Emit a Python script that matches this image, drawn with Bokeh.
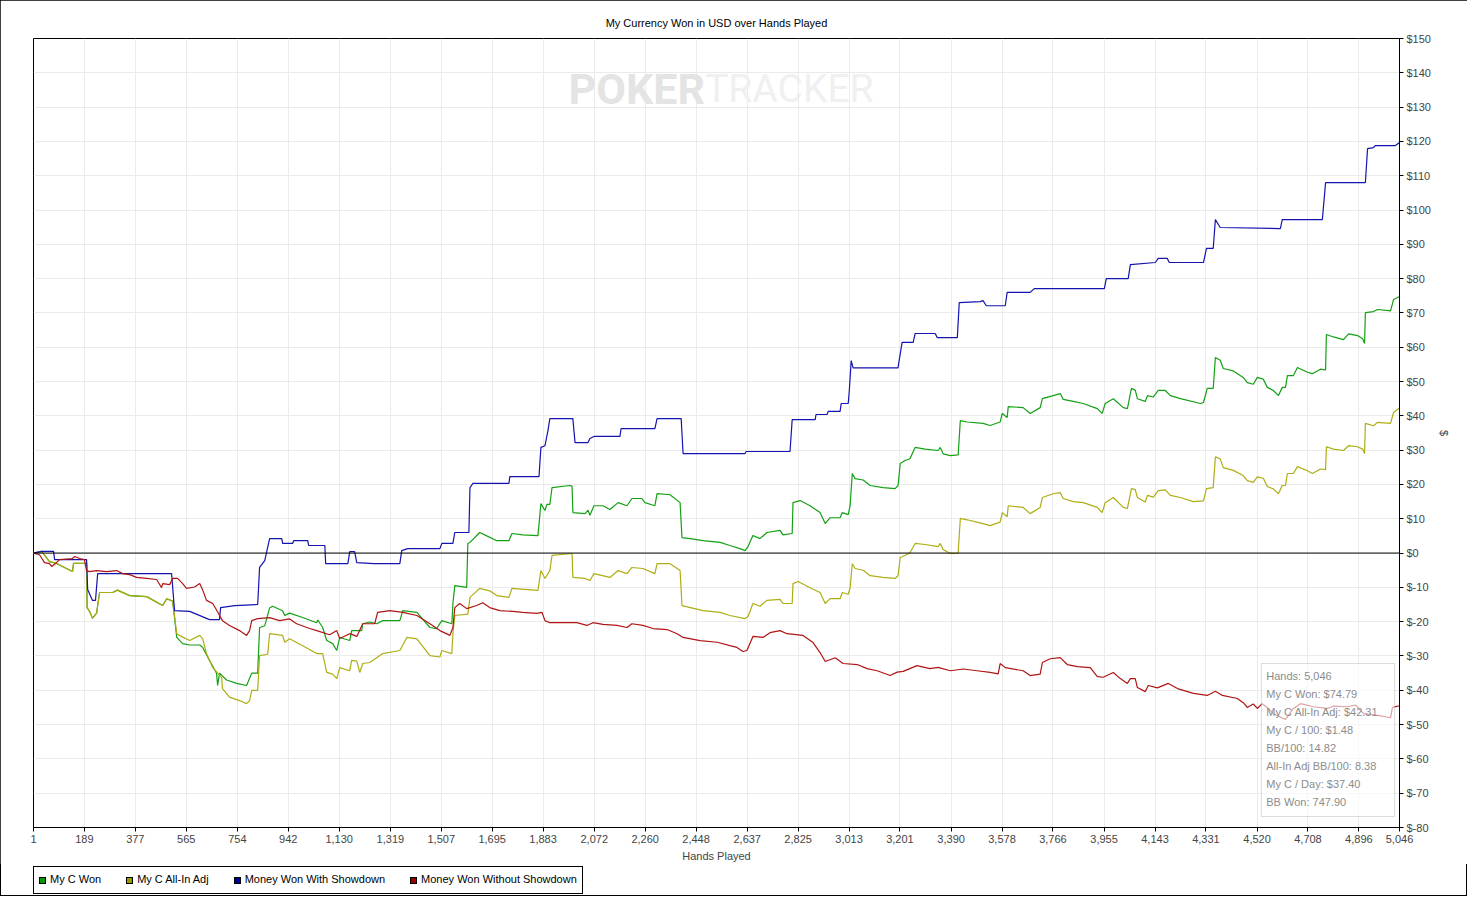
from bokeh.plotting import figure
from bokeh.layouts import column
from bokeh.models import (FixedTicker, NumeralTickFormatter, Span, BoxAnnotation, Label,
                          Range1d, ColumnDataSource, Div)
from bokeh.embed import file_html
from bokeh.resources import INLINE

# ---------------- data ----------------
hand_ticks = [1, 189, 377, 565, 754, 942, 1130, 1319, 1507, 1695, 1883, 2072, 2260, 2448,
              2637, 2825, 3013, 3201, 3390, 3578, 3766, 3955, 4143, 4331, 4520, 4708, 4896, 5046]
usd_ticks = list(range(-80, 151, 10))

series_names = ["My C Won", "My C All-In Adj", "Money Won With Showdown", "Money Won Without Showdown"]

won_hands = [1, 31, 60, 86, 97, 123, 145, 149, 182, 197,
             199, 208, 219, 234, 245, 293, 311, 356, 419, 478,
             493, 515, 530, 552, 578, 615, 626, 651, 677, 681,
             688, 714, 751, 788, 807, 829, 836, 855, 873, 884,
             921, 929, 947, 995, 1047, 1051, 1069, 1084, 1106, 1121,
             1132, 1169, 1176, 1213, 1217, 1243, 1269, 1291, 1354, 1365,
             1417, 1465, 1490, 1509, 1546, 1550, 1557, 1601, 1605, 1613,
             1649, 1675, 1712, 1757, 1768, 1808, 1864, 1875, 1890, 1897,
             1908, 1916, 1982, 1990, 1993, 2038, 2049, 2056, 2071, 2104,
             2130, 2160, 2193, 2211, 2248, 2259, 2296, 2304, 2352, 2389,
             2396, 2426, 2474, 2537, 2573, 2610, 2629, 2640, 2658, 2684,
             2710, 2758, 2769, 2803, 2806, 2832, 2869, 2906, 2925, 2943,
             2980, 2988, 3010, 3017, 3025, 3035, 3065, 3091, 3139, 3183,
             3194, 3202, 3220, 3238, 3257, 3294, 3342, 3350, 3361, 3387,
             3416, 3424, 3449, 3508, 3534, 3571, 3579, 3597, 3601, 3656,
             3682, 3719, 3727, 3767, 3793, 3804, 3841, 3878, 3930, 3948,
             3959, 3989, 4026, 4041, 4056, 4070, 4078, 4107, 4115, 4137,
             4155, 4181, 4200, 4237, 4311, 4322, 4336, 4358, 4366, 4384,
             4395, 4432, 4469, 4484, 4506, 4521, 4543, 4558, 4580, 4599,
             4613, 4625, 4632, 4654, 4669, 4706, 4724, 4754, 4773, 4776,
             4802, 4839, 4858, 4891, 4910, 4917, 4920, 4950, 4965, 5013,
             5024, 5046]
won_usd = [0, 0.5, -2.5, -3, -3.5, -4.5, -5.4, -3, -3, -3,
           -16, -17, -19, -17.5, -11.5, -11.5, -10.8, -12.4, -12.7, -15.3,
           -13.3, -14, -24.6, -26.4, -26.8, -26.8, -27.5, -31.3, -35, -38.6,
           -35, -37, -38, -38.6, -35, -35, -21.7, -21.2, -16, -15.5,
           -16.8, -18.2, -17.5, -18.8, -20.3, -19.5, -21.7, -25.5, -26.4, -28.4,
           -24.6, -25.5, -22.6, -22.6, -20.6, -20.1, -20.6, -19.7, -19.7, -16.8,
           -17.3, -21.7, -22, -19.7, -20.6, -14.7, -9.5, -10, 2.8, 3.1,
           6, 5, 3.6, 3.6, 5.7, 5.3, 5.1, 14.4, 12.4, 14.2,
           14.2, 19.1, 19.7, 19.5, 11.8, 11.5, 12.5, 11, 13.8, 13.8,
           12.7, 14.7, 13.8, 15.9, 15.9, 14.7, 13.8, 17.3, 17, 14.7,
           4.5, 4.2, 3.6, 3.1, 2.2, 1.3, 0.7, 1.9, 5.1, 4.2,
           6, 6.6, 5.3, 5.7, 14.7, 15.3, 13.8, 11.8, 8.6, 10.3,
           10.3, 11.8, 11.2, 13.8, 23.2, 21.7, 21.3, 19.7, 19.1, 18.8,
           19.7, 26.1, 27, 27.5, 30.8, 30.3, 29.9, 30.8, 28.9, 28.4,
           28.6, 38.6, 38.2, 37.8, 37.2, 38.2, 40.7, 39.5, 42.7, 42.4,
           40.7, 42.4, 45, 45.9, 46.5, 44.8, 44.2, 43.6, 42.1, 40.7,
           43.6, 45, 42.4, 42.1, 48, 47.5, 45, 44.2, 45.9, 45.5,
           47.4, 47.4, 45.9, 45, 43.6, 43.9, 48, 48, 57, 56.2,
           53.8, 53.1, 51.2, 49.7, 49.2, 51.2, 50.7, 48.3, 47.4, 45.9,
           48.3, 48.3, 51.7, 51.7, 54.1, 52.7, 52.3, 53.6, 53.4, 63.7,
           63, 62.2, 63.9, 63.4, 62.5, 61.1, 70.1, 70.4, 71, 70.6,
           73.9, 74.79]

adj_hands = [1, 31, 60, 86, 97, 123, 145, 149, 182, 197,
             199, 208, 219, 234, 245, 293, 311, 356, 419, 478,
             493, 515, 530, 552, 578, 615, 626, 640, 663, 696,
             699, 725, 762, 788, 799, 807, 829, 836, 866, 873,
             921, 929, 947, 995, 1047, 1069, 1084, 1106, 1121, 1132,
             1169, 1176, 1195, 1206, 1217, 1243, 1291, 1354, 1380, 1417,
             1465, 1502, 1509, 1546, 1550, 1557, 1605, 1613, 1649, 1686,
             1712, 1757, 1768, 1864, 1875, 1890, 1908, 1916, 1982, 1990,
             1993, 2038, 2056, 2071, 2130, 2160, 2193, 2211, 2252, 2296,
             2304, 2352, 2389, 2396, 2474, 2537, 2573, 2629, 2640, 2658,
             2684, 2710, 2758, 2769, 2803, 2806, 2825, 2869, 2906, 2925,
             2943, 2980, 2988, 3010, 3017, 3025, 3035, 3065, 3091, 3139,
             3183, 3194, 3202, 3220, 3238, 3257, 3294, 3342, 3350, 3361,
             3387, 3416, 3424, 3449, 3508, 3534, 3571, 3579, 3597, 3601,
             3656, 3682, 3719, 3727, 3767, 3793, 3804, 3841, 3878, 3930,
             3948, 3959, 3989, 4026, 4041, 4056, 4070, 4078, 4107, 4115,
             4137, 4155, 4181, 4200, 4237, 4285, 4322, 4333, 4358, 4366,
             4384, 4395, 4432, 4469, 4484, 4506, 4521, 4543, 4558, 4580,
             4599, 4613, 4625, 4632, 4654, 4669, 4706, 4724, 4754, 4773,
             4776, 4802, 4839, 4858, 4891, 4910, 4917, 4920, 4950, 4965,
             5013, 5024, 5046]
adj_usd = [0, 0.5, -2.5, -3, -3.5, -4.5, -5.4, -3, -3, -3,
           -16, -17, -19, -17.5, -11.5, -11.5, -10.8, -12.4, -12.7, -15.3,
           -13.3, -14, -23.5, -24.5, -25.5, -24, -25, -29.3, -33.4, -36.3,
           -39.5, -42, -43, -43.9, -43, -40, -40, -29.9, -29.5, -23.5,
           -24, -26, -25, -27, -29.3, -29.3, -34.8, -35.3, -36.6, -33.4,
           -34.3, -31.3, -31.5, -34.8, -32.2, -31.9, -29.3, -28.4, -24.6, -25,
           -29.9, -30.3, -28.4, -29.3, -23.5, -18.2, -17.8, -12.9, -10.3, -11,
           -12.4, -12.9, -10.3, -10.9, -5.1, -7.4, -5.1, -0.7, -0.2, -0.2,
           -7.1, -7.4, -8, -6, -7.1, -5.1, -6, -4.2, -4.5, -6,
           -3.1, -3.1, -5.1, -15.3, -16.8, -17.3, -18.2, -19.1, -18.5, -14.7,
           -15.5, -13.8, -13.5, -14.7, -14.7, -8.9, -8.3, -10.1, -11.5, -14.7,
           -13.3, -13.3, -11.5, -12, -10.1, -3.1, -4.5, -5, -6.6, -7.1,
           -7.4, -6.6, -1.3, -0.7, 0.1, 2.8, 2.5, 1.9, 2.8, 1,
           -0.1, 0, 10.1, 9.7, 8.6, 8, 9, 11.8, 10.6, 13.8,
           13.3, 11.5, 13.3, 16.2, 17.3, 17.6, 15.9, 15, 14.7, 13.3,
           11.8, 14.7, 16.2, 13.3, 13, 18.8, 18.5, 16.2, 14.9, 16.8,
           16.3, 18.2, 18.4, 16.8, 16.2, 15, 15.2, 18.8, 19.1, 28.1,
           27.4, 24.9, 24.1, 22.6, 21.1, 20.6, 22.2, 21.8, 19.4, 18.7,
           17.3, 19.7, 19.7, 23.2, 23.2, 25.2, 24, 23.2, 24.5, 24.3,
           31, 30.3, 29.9, 31.3, 31, 30.3, 29, 37.8, 37.1, 38.1,
           37.8, 41, 42.31]

sd_hands = [1, 31, 75, 79, 197, 201, 219, 230, 238, 511,
            522, 578, 651, 688, 692, 744, 829, 836, 855, 873,
            918, 921, 958, 962, 1014, 1017, 1077, 1080, 1162, 1169,
            1187, 1195, 1258, 1354, 1361, 1383, 1502, 1509, 1550, 1557,
            1609, 1613, 1624, 1757, 1760, 1868, 1875, 1890, 1901, 1908,
            1993, 2001, 2049, 2056, 2071, 2167, 2171, 2296, 2304, 2393,
            2400, 2629, 2633, 2795, 2803, 2821, 2888, 2891, 2932, 2936,
            2980, 2984, 3010, 3014, 3021, 3028, 3194, 3198, 3209, 3250,
            3257, 3331, 3339, 3413, 3420, 3497, 3508, 3520, 3590, 3597,
            3682, 3697, 3956, 3963, 4044, 4052, 4144, 4155, 4188, 4196,
            4322, 4333, 4358, 4366, 4384, 4606, 4613, 4761, 4773, 4920,
            4928, 4950, 4957, 5031, 5046]
sd_usd = [0, 0.5, 0.5, -1.9, -1.9, -10.6, -13.8, -13.8, -6, -6,
          -16.8, -17, -19.4, -19.4, -15.9, -15.3, -15, -4.2, -2.2, 4.2,
          4.2, 2.8, 2.8, 3.6, 3.6, 2.2, 2.2, -3.1, -3.1, 0.4,
          0.4, -2.8, -3.1, -3.1, 0.7, 1.3, 1.3, 2.8, 2.8, 6,
          6, 19.1, 20.3, 20.3, 22.3, 22.3, 30.8, 31.3, 35.7, 39.2,
          39.2, 32.2, 32.2, 33.4, 34, 34, 36.3, 36.3, 39.2, 39.2,
          29, 29, 29.6, 29.6, 38.9, 38.9, 38.9, 40.4, 40.4, 41.3,
          41.3, 43.6, 43.6, 47.4, 56.1, 54, 54, 56.1, 61.4, 61.4,
          64, 64, 62.8, 62.8, 73, 73.3, 73.6, 72.1, 72.1, 76,
          76, 77.1, 77.1, 80, 80, 84.1, 84.7, 85.9, 85.9, 84.7,
          84.7, 88.8, 88.8, 97.2, 94.9, 94.6, 97.2, 97.2, 108, 108,
          117.9, 118.2, 118.8, 118.8, 119.7]

nsd_hands = [1, 23, 42, 60, 68, 86, 97, 145, 153, 171,
             189, 197, 208, 234, 271, 308, 330, 356, 382, 419,
             456, 474, 478, 504, 515, 533, 552, 566, 596, 615,
             626, 640, 663, 677, 699, 725, 762, 788, 799, 807,
             829, 873, 910, 947, 973, 1021, 1047, 1095, 1121, 1132,
             1169, 1195, 1217, 1261, 1272, 1317, 1365, 1417, 1465, 1502,
             1539, 1550, 1557, 1575, 1601, 1638, 1660, 1686, 1723, 1771,
             1808, 1860, 1879, 1890, 1908, 1956, 2008, 2045, 2067, 2104,
             2156, 2193, 2211, 2252, 2289, 2341, 2378, 2400, 2463, 2526,
             2573, 2599, 2621, 2636, 2658, 2695, 2721, 2758, 2784, 2843,
             2880, 2906, 2925, 2962, 2991, 3043, 3080, 3117, 3165, 3191,
             3213, 3264, 3312, 3342, 3387, 3435, 3486, 3534, 3564, 3571,
             3590, 3656, 3682, 3719, 3727, 3756, 3793, 3819, 3856, 3904,
             3930, 3952, 3989, 4015, 4041, 4052, 4070, 4078, 4107, 4118,
             4152, 4192, 4226, 4285, 4336, 4366, 4392, 4447, 4469, 4484,
             4506, 4521, 4539, 4558, 4580, 4625, 4654, 4680, 4728, 4780,
             4802, 4854, 4884, 4913, 4965, 5013, 5020, 5046]
nsd_usd = [0, -0.5, -2.8, -3.1, -3.9, -2.8, -1.9, -1.6, -1, -1.6,
           -1.9, -5.1, -5.4, -5.1, -5.4, -5.1, -6, -6.3, -7.1, -7.4,
           -7.7, -10.1, -8.9, -9.2, -7.4, -7.4, -8.9, -10.3, -9.9, -8.9,
           -10.8, -13.8, -14.7, -16.6, -19.7, -21.1, -22.6, -24, -22.6, -19.7,
           -19.1, -18.8, -19.7, -19.2, -20.6, -22, -22.6, -23.8, -22.6, -24.9,
           -23.5, -24.3, -20.6, -20.6, -17.3, -16.8, -17.3, -18.2, -20.6, -22.6,
           -24, -21.7, -15.9, -14.7, -16.2, -15.3, -14.5, -15.9, -16.8, -17,
           -17.3, -17.6, -17.3, -19.7, -20.3, -20.3, -20.3, -21.1, -20.3, -20.8,
           -21.1, -21.7, -20.6, -21.1, -22, -22.3, -23.5, -24.6, -25.5, -26,
           -27, -27.5, -28.7, -28.4, -24.3, -24.6, -23.2, -22.6, -23.5, -24,
           -26.1, -29, -31.6, -30.5, -32.2, -32.5, -33.7, -34.3, -35.7, -34.7,
           -34.5, -32.8, -33.7, -33.3, -34.3, -33.8, -34.3, -34.8, -35.2, -32.2,
           -33.4, -34.3, -35.7, -35.3, -31.9, -30.8, -30.5, -32.5, -33.1, -33.4,
           -36, -36.2, -34.8, -36.6, -38, -36.6, -36.6, -39.2, -40.4, -38.6,
           -39.3, -38, -39.5, -40.9, -41.5, -40.3, -41.5, -42.4, -43.6, -45,
           -44, -45.3, -43.9, -45, -46.8, -48.5, -45.3, -43.9, -44.8, -45.3,
           -44.6, -44.8, -44.3, -46.8, -47.3, -48, -45, -44.5]

stat_lines = ["Hands: 5,046", "My C Won: $74.79", "My C All-In Adj: $42.31",
              "My C / 100: $1.48", "BB/100: 14.82", "All-In Adj BB/100: 8.38",
              "My C / Day: $37.40", "BB Won: 747.90"]

# ---------------- style ----------------
FONT = "Liberation Sans"
line_colors = ["#14a014", "#aeae14", "#1414b0", "#b01414"]
legend_colors = ["#009900", "#999900", "#000099", "#990000"]
W = 1467

p = figure(width=W, height=864, output_backend="svg", toolbar_location=None,
           x_range=Range1d(1, 5046), y_range=Range1d(-80, 150),
           y_axis_location="right",
           min_border_left=33, min_border_top=38, min_border_right=68, min_border_bottom=37,
           title="My Currency Won in USD over Hands Played")

p.title.align = "center"
p.title.text_font = FONT
p.title.text_font_size = "11px"
p.title.text_font_style = "normal"
p.title.text_color = "black"
p.title.standoff = 19

p.outline_line_color = "black"
p.outline_line_alpha = 1
p.background_fill_color = "white"
p.border_fill_color = "white"

# x axis
xa = p.xaxis[0]
xa.ticker = FixedTicker(ticks=hand_ticks)
xa.formatter = NumeralTickFormatter(format="0,0")
xa.axis_label = "Hands Played"
xa.axis_label_text_font = FONT
xa.axis_label_text_font_size = "11px"
xa.axis_label_text_font_style = "normal"
xa.axis_label_standoff = 4
xa.major_label_text_font = FONT
xa.major_label_text_font_size = "11px"
xa.major_label_standoff = 3
xa.major_tick_in = 0
xa.major_tick_out = 4
xa.minor_tick_out = 0
xa.minor_tick_in = 0
xa.axis_line_color = "black"

# y axis (right)
ya = p.yaxis[0]
ya.ticker = FixedTicker(ticks=usd_ticks)
ya.major_label_overrides = {v: "$" + str(v) for v in usd_ticks}
ya.axis_label = "$"
ya.axis_label_text_font = FONT
ya.axis_label_text_font_size = "11px"
ya.axis_label_text_font_style = "normal"
ya.axis_label_standoff = 4
ya.major_label_text_font = FONT
ya.major_label_text_font_size = "11px"
ya.major_label_standoff = 3
ya.major_tick_in = 0
ya.major_tick_out = 4
ya.minor_tick_out = 0
ya.minor_tick_in = 0
ya.axis_line_color = "black"

p.xgrid.ticker = FixedTicker(ticks=hand_ticks)
p.ygrid.ticker = FixedTicker(ticks=usd_ticks)
p.grid.grid_line_color = "#ebebeb"
p.grid.grid_line_width = 1

# watermark
p.add_layout(Label(x=2481, y=135.3, text="POKER", text_align="right", text_baseline="middle",
                   text_font="Roboto", text_font_size="43px", text_font_style="bold",
                   text_color="#e4e4e4"))
p.add_layout(Label(x=2481, y=135.3, text="TRACKER", text_align="left", text_baseline="middle",
                   text_font="Roboto", text_font_size="39px", text_font_style="normal",
                   text_color="#f0f0f0"))

# zero line
p.add_layout(Span(location=0, dimension="width", line_color="black", line_width=1))

# series
all_series = [(won_hands, won_usd), (adj_hands, adj_usd), (sd_hands, sd_usd), (nsd_hands, nsd_usd)]
for (hx, hy), col in zip(all_series, line_colors):
    n = min(len(hx), len(hy))
    src = ColumnDataSource(dict(x=hx[:n], y=hy[:n]))
    p.line("x", "y", source=src, line_color=col, line_width=1.2)

# stats box
p.add_layout(BoxAnnotation(left=4536, right=5028, top=-32.2, bottom=-76.8,
                           fill_color="white", fill_alpha=0.6,
                           line_color="#8a8a8a", line_width=1))
for i, t in enumerate(stat_lines):
    p.add_layout(Label(x=4554, y=-35.7 - 5.25 * i, text=t, text_baseline="middle",
                       text_font=FONT, text_font_size="11px", text_color="#8c8c8c"))

# ---------------- legend strip below the chart ----------------
entries = "".join(
    '<span style="display:inline-block;flex:0 0 auto;width:7px;height:7px;min-width:7px;'
    'background:%s;border:1px solid #000;margin-right:4px;"></span>'
    '<span style="flex:0 0 auto;margin-right:25px;white-space:nowrap;">%s</span>' % (c, name)
    for c, name in zip(legend_colors, series_names))
legend_html = (
    '<div style="margin:2px 0 0 33px;width:550px;height:28px;box-sizing:border-box;'
    'border:1px solid #000;background:#fff;display:flex;align-items:center;padding-left:5px;'
    "font-family:'Liberation Sans',Arial,sans-serif;font-size:11px;color:#000;\">"
    + entries + '</div>')
legend_div = Div(text=legend_html, width=W, height=32, margin=0)

layout = column(p, legend_div, spacing=0,
                styles={"outline": "1px solid black", "outline-offset": "-1px"})
open("out.html", "w").write(file_html(layout, INLINE))
